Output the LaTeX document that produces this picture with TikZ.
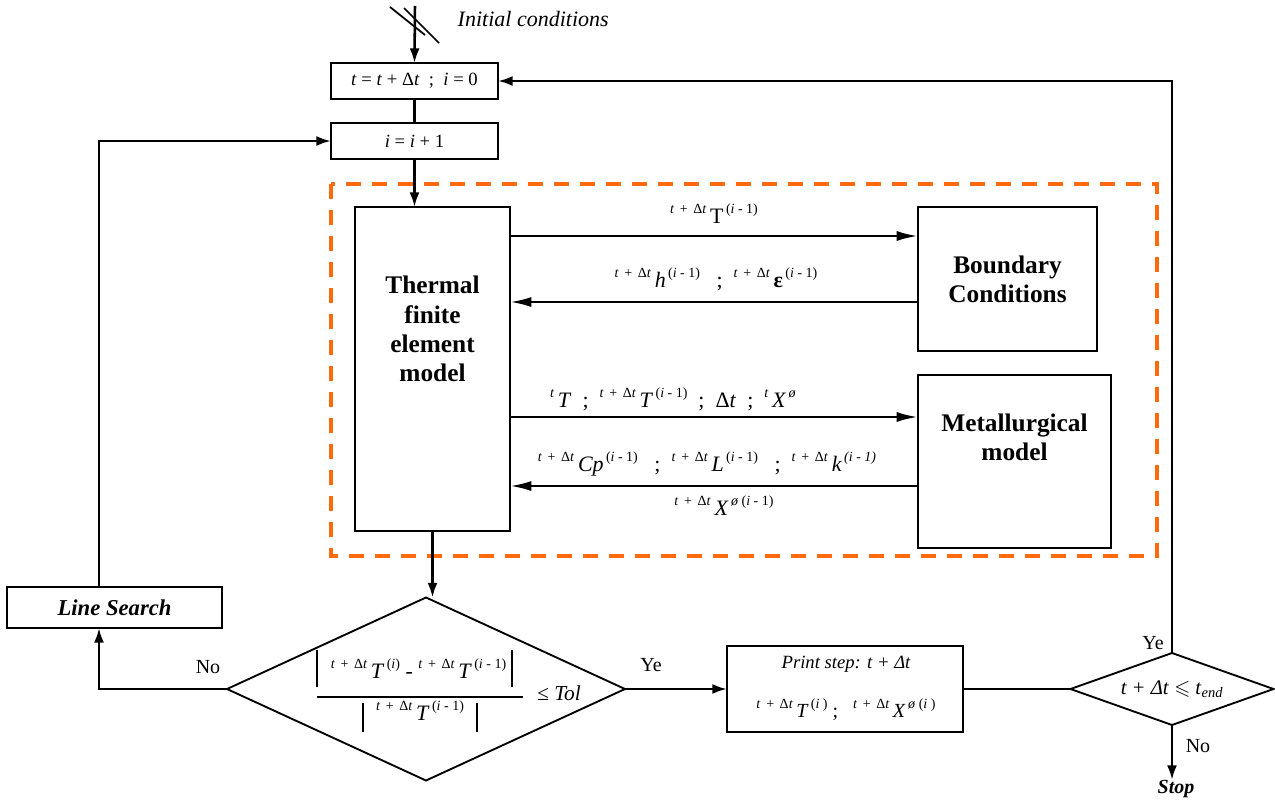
\documentclass[tikz,border=0pt]{standalone}
\usepackage{amsmath,amssymb}
\usepackage{fontspec}
\setmainfont{Liberation Serif}
\usetikzlibrary{arrows.meta,shapes.geometric,positioning}
\definecolor{dashorange}{HTML}{FF6A0F}

\newcommand{\tdt}{\textit{t}\hspace{0.4em}+\hspace{0.4em}Δ\textit{t}}
\newcommand{\lsup}[1]{\raisebox{0.45em}{\fontsize{10.5}{10.5}\selectfont #1}}
\newcommand{\rsup}[1]{\raisebox{0.45em}{\fontsize{10.5}{10.5}\selectfont\,#1}}

\tikzset{
  box/.style={draw, line width=1.4pt, inner sep=0pt, outer sep=0pt},
  bigbox/.style={draw, line width=1.1pt, inner sep=0pt, outer sep=0pt},
  boldtxt/.style={font=\fontsize{19}{22}\selectfont\bfseries, align=center},
  small/.style={font=\fontsize{14}{16}\selectfont},
  lbl/.style={font=\fontsize{16.5}{18}\selectfont, inner sep=0pt, anchor=base},
  flow/.style={line width=1.9pt, -{Latex[length=11pt,width=7.5pt]}},
  exchange/.style={line width=1.9pt, -{Latex[length=16pt,width=7.5pt]}},
  link/.style={line width=1.9pt},
  bar/.style={line width=1.3pt},
  decision/.style={draw, shape=diamond, line width=1.4pt, inner sep=0pt, outer sep=0pt},
  yesno/.style={font=\fontsize{15}{15}\selectfont},
}

\begin{document}
\begin{tikzpicture}[x=0.75pt, y=-0.75pt]

\useasboundingbox (0,0) rectangle (1275,807);

% === initial conditions ===
\coordinate (init) at (415,6);
\node[anchor=base west, font=\fontsize{16.5}{16.5}\selectfont\itshape] (initlbl) at (453,26) {Initial conditions};

% === top boxes ===
\node[box, small, minimum width=125.25pt, minimum height=27pt] (start) at (414.5,81)
  {\textit{t} = \textit{t} + Δ\textit{t}\ \ ;\ \ \textit{i} = 0};
\node[box, small, minimum width=125.25pt, minimum height=27pt] (iter) at (414.5,141)
  {\textit{i} = \textit{i} + 1};

% === coupled models (dashed frame) ===
\draw[dashorange, line width=2.3pt, dash pattern=on 11pt off 8.5pt] (331,184) rectangle (1157,556);

\node[bigbox, minimum width=116.25pt, minimum height=243pt] (thermal) at (432.5,369) {};
\node[boldtxt] (thermaltxt) at (432.5,329) {Thermal\\finite\\element\\model};

\node[bigbox, boldtxt, minimum width=134.25pt, minimum height=108pt] (bound) at (1007.5,279)
  {Boundary\\Conditions};

\node[bigbox, minimum width=144.75pt, minimum height=129.75pt] (metal) at (1014.5,461.5) {};
\node[boldtxt] (metaltxt) at (1014.5,437) {Metallurgical\\model};

% === exchanges ===
\draw[exchange] (thermal.east |- 0,236) -- (bound.west |- 0,236);
\node[lbl] (lblT) at (714,223) {\lsup{\tdt}\,T\rsup{(\textit{i} - 1)}};

\draw[exchange] (bound.west |- 0,302) -- (thermal.east |- 0,302);
\node[lbl] (lblH) at (716,287)
  {\lsup{\tdt}\,\textit{h}\rsup{(\textit{i} - 1)}\ \ \ ;\ \ \lsup{\tdt}\,\textbf{ε}\rsup{(\textit{i} - 1)}};

\draw[exchange] (thermal.east |- 0,417) -- (metal.west |- 0,417);
\node[lbl] (lblM) at (673,407)
  {\lsup{\textit{t}}\,\textit{T}\ \ ;\ \ \lsup{\tdt}\,\textit{T}\rsup{(\textit{i} - 1)}\ \ ;\ \ Δ\textit{t}\ \ ;\ \ \lsup{\textit{t}}\,\textit{X}\rsup{\textit{ø}}};

\draw[exchange] (metal.west |- 0,486) -- (thermal.east |- 0,486);
\node[lbl] (lblC) at (707,471)
  {\lsup{\tdt}\,\textit{Cp}\rsup{(\textit{i} - 1)}\ \ \ ;\ \ \lsup{\tdt}\,\textit{L}\rsup{(\textit{i} - 1)}\ \ \ ;\ \ \lsup{\tdt}\,\textit{k}\rsup{\textit{(i - 1)}}};
\node[lbl] (lblX) at (724,515) {\lsup{\tdt}\,\textit{X}\rsup{\textit{ø} (\textit{i} - 1)}};

% === convergence test ===
\node[decision, minimum width=298.5pt, minimum height=137.25pt] (tol) at (426,689) {};
\node[lbl] (num) at (418.5,678)
  {\lsup{\tdt}\,\textit{T}\rsup{(\textit{i})}\ -\ \lsup{\tdt}\,\textit{T}\rsup{(\textit{i} - 1)}};
\node[lbl] (den) at (420,720) {\lsup{\tdt}\,\textit{T}\rsup{(\textit{i} - 1)}};
\draw[bar] (317,650) -- (317,687);
\draw[bar] (512,650) -- (512,687);
\draw[bar] (317,697) -- (523,697);
\draw[bar] (363,703) -- (363,732);
\draw[bar] (477,703) -- (477,732);
\node[anchor=base west, font=\fontsize{16}{16}\selectfont, inner sep=0pt] (toltxt) at (537,700) {≤ \textit{Tol}};

% === line search ===
\node[box, minimum width=161.25pt, minimum height=30.75pt, font=\fontsize{17}{17}\selectfont\bfseries\itshape] (search) at (114.5,607.5) {Line Search};
\coordinate (noturn) at (99,689);

% === print step ===
\node[box, minimum width=177pt, minimum height=64.5pt] (print) at (845,689) {};
\node[font=\fontsize{14}{14}\selectfont\itshape, inner sep=0pt] (printtxt) at (846,664) {Print step: t + Δt};
\node[font=\fontsize{15}{15}\selectfont, inner sep=0pt] (printvals) at (846,710)
  {\lsup{\tdt}\,\textit{T}\rsup{(\textit{i} )}\ ;\ \ \ \lsup{\tdt}\,\textit{X}\rsup{\textit{ø} (\textit{i} )}};

% === end-time test ===
\node[decision, aspect=2.8, minimum width=152.25pt, minimum height=54pt, font=\fontsize{15.5}{15.5}\selectfont] (tend) at (1172,689)
  {\textit{t + Δt} $\leqslant$ \textit{t}\textsubscript{\textit{end}}};
\node[font=\fontsize{15}{15}\selectfont\bfseries\itshape, inner sep=0pt] (stop) at (1176,789) {Stop};

% === flow ===
\draw[flow] (init) -- (start.north);
\draw[line width=1.3pt] (390,7) -- (425,35);
\draw[line width=1.3pt] (404,8) -- (439,43);
\draw[link] (start) -- (iter);
\draw[flow] (iter.south) -- (iter.south |- thermal.north);
\draw[flow] (thermal.south) -- (thermal.south |- tol.north);

\draw[flow] (tol.west) -- (noturn) -- (noturn |- search.south);
\node[yesno, anchor=base] (nolbl) at (208,673) {No};
\draw[flow] (noturn |- search.north) -- (noturn |- iter.west) -- (iter.west);

\draw[flow] (tol.east) -- (print.west);
\node[yesno, anchor=base] (yeslbl) at (651,671) {Ye};
\draw[link] (print.east) -- (tend.west);

\draw[flow] (tend.north) -- (tend.north |- start.east) -- (start.east);
\node[yesno, anchor=base] (yeslbl2) at (1153,649) {Ye};
\draw[flow] (tend.south) -- (tend.south |- stop.north);
\node[yesno, anchor=base] (nolbl2) at (1198,752) {No};

\end{tikzpicture}
\end{document}
